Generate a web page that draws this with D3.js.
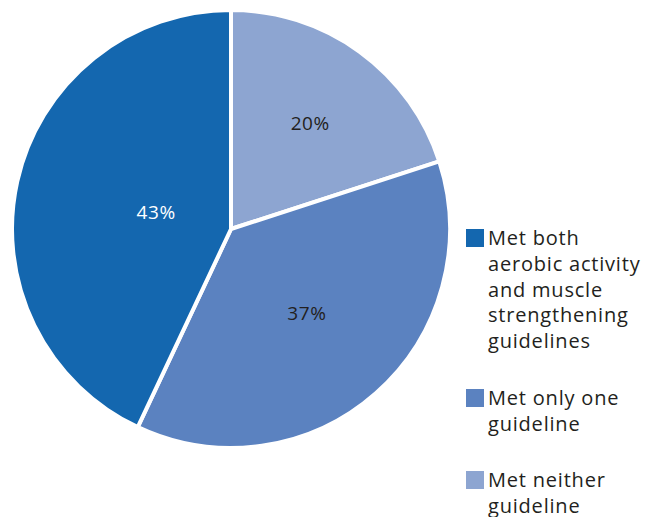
<!DOCTYPE html>
<html>
<head>
<meta charset="utf-8">
<script src="https://cdn.jsdelivr.net/npm/d3@7"></script>
<style>
  body { margin: 0; background: #fff; }
  text { font-family: "Open Sans", Lato, sans-serif; }
</style>
</head>
<body>
<script>
// chart data
const categories = [
  "Met neither guideline",
  "Met only one guideline",
  "Met both aerobic activity and muscle strengthening guidelines"
];
const values = [20, 37, 43];
const valueLabels = ["20%", "37%", "43%"];

// legend order (top to bottom) and wrapped lines
const legendOrder = [2, 1, 0];
const legendLines = [
  ["Met neither", "guideline"],
  ["Met only one", "guideline"],
  ["Met both", "aerobic activity", "and muscle", "strengthening", "guidelines"]
];

const w = 646, h = 517;
const cx = 231, cy = 229, r = 219;
const colors = ["#8DA5D1", "#5B82C0", "#1467AF"];
const textColors = ["#231f20", "#231f20", "#ffffff"];
const labelRadius = [0.6, 0.51, 0.36];

const svg = d3.select("body").append("svg")
  .attr("width", w)
  .attr("height", h);

const pie = d3.pie().sort(null).value(d => d);
const arcs = pie(values);
const arc = d3.arc().innerRadius(0).outerRadius(r);

const g = svg.append("g").attr("transform", `translate(${cx},${cy})`);

g.selectAll("path")
  .data(arcs)
  .enter()
  .append("path")
  .attr("d", arc)
  .attr("fill", (d, i) => colors[i])
  .attr("stroke", "#fff")
  .attr("stroke-width", 4)
  .attr("stroke-linejoin", "round");

g.selectAll("text.val")
  .data(arcs)
  .enter()
  .append("text")
  .attr("class", "val")
  .attr("transform", (d, i) => {
    const a = (d.startAngle + d.endAngle) / 2;
    const rr = r * labelRadius[i];
    return `translate(${rr * Math.sin(a) + 2},${-rr * Math.cos(a) + 7})`;
  })
  .attr("text-anchor", "middle")
  .attr("font-size", 19)
  .attr("letter-spacing", 0.6)
  .attr("fill", (d, i) => textColors[i])
  .text((d, i) => valueLabels[i]);

// legend
const legendTops = [229, 389, 471];
const lineH = 25.8;
const legend = svg.append("g");

legendOrder.forEach((idx, k) => {
  const y0 = legendTops[k];
  legend.append("rect")
    .attr("x", 466)
    .attr("y", y0)
    .attr("width", 18)
    .attr("height", 18)
    .attr("fill", colors[idx]);
  const t = legend.append("text")
    .attr("x", 488)
    .attr("y", y0 + 16)
    .attr("font-size", 20)
    .attr("letter-spacing", 0.8)
    .attr("fill", "#231f20");
  legendLines[idx].forEach((line, j) => {
    t.append("tspan")
      .attr("x", 488)
      .attr("y", y0 + 16 + j * lineH)
      .text(line);
  });
});
</script>
</body>
</html>
